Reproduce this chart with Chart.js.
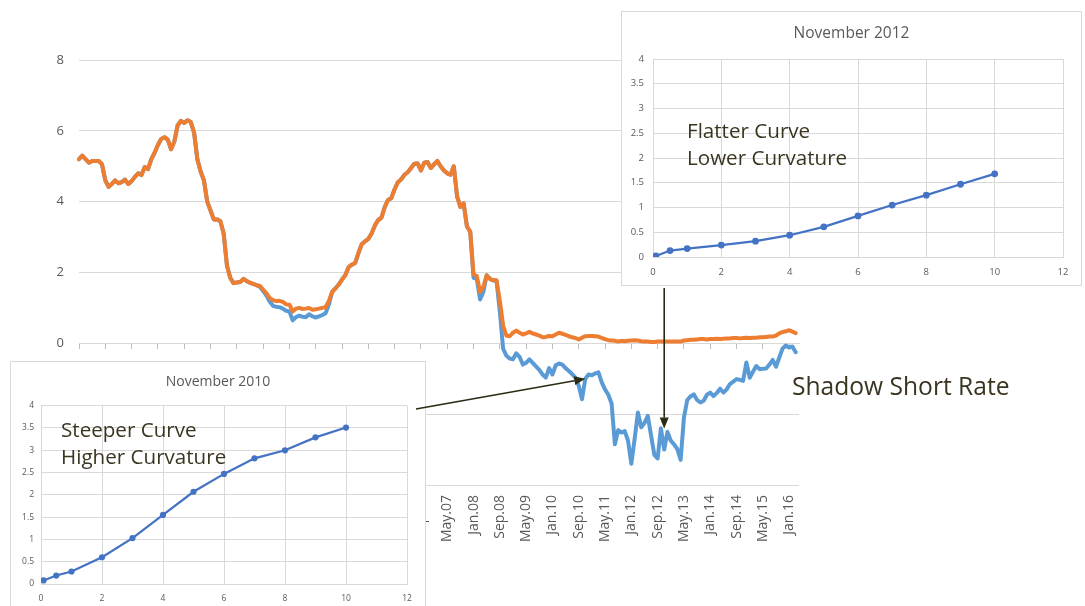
<!DOCTYPE html>
<html lang="en">
<head>
<meta charset="UTF-8">
<title>Shadow Short Rate</title>
<script src="https://cdn.jsdelivr.net/npm/chart.js@4.4.0/dist/chart.umd.min.js"></script>
<style>
  body { margin: 0; background: #fff; }
  #stage { position: relative; width: 1085px; height: 606px; overflow: hidden; background: #fff; font-family: 'Open Sans', sans-serif; }
  #main, #arrows { position: absolute; left: 0; top: 0; }
  #arrows { pointer-events: none; }
  .inset { position: absolute; background: #fff; border: 1px solid #d9d9d9; box-sizing: border-box; }
  .inset canvas { display: block; }
  .note { position: absolute; color: #3b3520; white-space: nowrap; font-size: 20.6px; line-height: 27px; }
</style>
</head>
<body>
<div id="stage">
  <canvas id="main" width="1085" height="606"></canvas>
  <div class="inset" style="left:621px; top:11px; width:461px; height:275px;"><canvas id="nov12" width="459" height="273"></canvas></div>
  <div class="inset" style="left:10px; top:361px; width:416px; height:260px;"><canvas id="nov10" width="414" height="258"></canvas></div>
  <div class="note" style="left:687px; top:116.5px;">Flatter Curve<br>Lower Curvature</div>
  <div class="note" style="left:61px; top:416px;">Steeper Curve<br>Higher Curvature</div>
  <div class="note" style="left:792px; top:370.5px; font-size:24.6px; line-height:30px;">Shadow Short Rate</div>
  <canvas id="arrows" width="1085" height="606"></canvas>
</div>

<script>
// monthly, Jan 1998 - Mar 2016
var shortRate = [
  5.2, 5.3, 5.2, 5.1, 5.15, 5.15, 5.15, 5.05, 4.6, 4.42, 4.5, 4.6,
  4.52, 4.55, 4.62, 4.5, 4.58, 4.7, 4.8, 4.75, 4.98, 4.92, 5.2, 5.38,
  5.6, 5.77, 5.82, 5.75, 5.48, 5.7, 6.15, 6.28, 6.22, 6.3, 6.25, 5.95,
  5.2, 4.85, 4.6, 4.0, 3.75, 3.5, 3.5, 3.45, 3.1, 2.2, 1.85, 1.7,
  1.72, 1.73, 1.82, 1.76, 1.71, 1.68, 1.64, 1.62, 1.52, 1.42, 1.28, 1.22,
  1.19, 1.2, 1.17, 1.1, 1.09, 0.9, 0.98, 1.0, 0.97, 0.98, 1.0, 0.95,
  0.96, 0.98, 1.0, 1.02, 1.2, 1.45, 1.55, 1.66, 1.8, 1.92, 2.15, 2.22,
  2.27, 2.55, 2.8, 2.88, 2.95, 3.1, 3.33, 3.48, 3.55, 3.85, 4.05, 4.1,
  4.35, 4.55, 4.63, 4.76, 4.83, 4.95, 5.07, 5.08, 4.88, 5.1, 5.12, 4.95,
  5.05, 5.15, 5.0, 4.88, 4.8, 4.76, 5.0, 4.15, 3.85, 3.95, 3.3, 3.15,
  1.95, 1.9, 1.45, 1.6, 1.92, 1.82, 1.78, 1.78, 1.2, 0.5, 0.22, 0.2,
  0.3, 0.36, 0.3, 0.25, 0.28, 0.33, 0.28, 0.25, 0.22, 0.17, 0.18, 0.21,
  0.2, 0.25, 0.3, 0.27, 0.24, 0.2, 0.17, 0.15, 0.11, 0.16, 0.2, 0.21,
  0.21, 0.2, 0.19, 0.15, 0.12, 0.09, 0.08, 0.07, 0.05, 0.07, 0.06, 0.07,
  0.08, 0.09, 0.08, 0.06, 0.05, 0.05, 0.04, 0.04, 0.05, 0.05, 0.05, 0.05,
  0.05, 0.05, 0.05, 0.05, 0.08, 0.09, 0.1, 0.1, 0.11, 0.12, 0.12, 0.11,
  0.12, 0.12, 0.13, 0.12, 0.13, 0.14, 0.14, 0.15, 0.15, 0.14, 0.15, 0.16,
  0.15, 0.16, 0.16, 0.17, 0.17, 0.18, 0.19, 0.19, 0.22, 0.28, 0.32, 0.34,
  0.37, 0.33, 0.29
];

var shadowRate = [
  5.2, 5.3, 5.2, 5.1, 5.15, 5.15, 5.15, 5.05, 4.6, 4.42, 4.5, 4.6,
  4.52, 4.55, 4.62, 4.5, 4.58, 4.7, 4.8, 4.75, 4.98, 4.92, 5.2, 5.38,
  5.6, 5.77, 5.82, 5.75, 5.48, 5.7, 6.15, 6.28, 6.22, 6.3, 6.25, 5.95,
  5.2, 4.85, 4.6, 4.0, 3.75, 3.5, 3.5, 3.45, 3.1, 2.2, 1.85, 1.7,
  1.72, 1.73, 1.82, 1.76, 1.71, 1.68, 1.64, 1.6, 1.48, 1.35, 1.18, 1.06,
  1.03, 1.02, 0.98, 0.92, 0.9, 0.65, 0.74, 0.78, 0.75, 0.74, 0.82, 0.76,
  0.73, 0.76, 0.8, 0.85, 1.1, 1.45, 1.55, 1.66, 1.8, 1.92, 2.15, 2.22,
  2.27, 2.55, 2.8, 2.88, 2.95, 3.1, 3.33, 3.48, 3.55, 3.85, 4.05, 4.1,
  4.35, 4.55, 4.63, 4.76, 4.83, 4.95, 5.07, 5.08, 4.88, 5.1, 5.12, 4.95,
  5.05, 5.15, 5.0, 4.88, 4.8, 4.76, 5.0, 4.15, 3.85, 3.95, 3.3, 3.15,
  1.85, 1.82, 1.24, 1.45, 1.92, 1.82, 1.78, 1.76, 0.9, -0.15, -0.35, -0.43,
  -0.45, -0.28, -0.38, -0.6, -0.55, -0.45, -0.55, -0.65, -0.75, -0.88, -0.97, -0.7,
  -0.88, -0.62, -0.57, -0.6, -0.7, -0.78, -0.87, -0.97, -1.2, -1.58, -1.0, -0.88,
  -0.9, -0.85, -0.82, -1.1, -1.3, -1.45, -1.7, -2.85, -2.45, -2.52, -2.48, -2.75,
  -3.4, -2.7, -1.95, -2.37, -2.25, -2.05, -2.6, -3.15, -3.25, -2.4, -3.0, -2.5,
  -2.75, -2.85, -2.99, -3.29, -2.1, -1.6, -1.5, -1.44, -1.6, -1.67, -1.62, -1.45,
  -1.39, -1.49, -1.4, -1.28, -1.39, -1.3, -1.15, -1.08, -1.01, -1.03, -1.06, -0.54,
  -0.97, -0.8, -0.64, -0.73, -0.72, -0.71, -0.6, -0.47, -0.66, -0.4, -0.15, -0.06,
  -0.12, -0.09, -0.25
];

// yield curves (maturity in years)
var maturities = [0.083, 0.5, 1, 2, 3, 4, 5, 6, 7, 8, 9, 10];
var curveNov2010 = [0.08, 0.19, 0.28, 0.6, 1.03, 1.55, 2.07, 2.47, 2.82, 3.0, 3.29, 3.51];
var curveNov2012 = [0.02, 0.13, 0.17, 0.24, 0.32, 0.44, 0.61, 0.83, 1.05, 1.25, 1.47, 1.68];

// category axis: Jan.98 .. Apr.16, a label every 8 months
var monthNames = ['Jan','Feb','Mar','Apr','May','Jun','Jul','Aug','Sep','Oct','Nov','Dec'];
var months = [];
for (var i = 0; i < 220; i++) {
  var yr = 1998 + Math.floor(i / 12);
  months.push(monthNames[i % 12] + '.' + String(yr).slice(2));
}

Chart.defaults.font.family = "'Open Sans', sans-serif";
Chart.defaults.color = '#595959';

var mainChart = new Chart(document.getElementById('main'), {
  type: 'line',
  data: {
    labels: months,
    datasets: [
      { label: 'Shadow Short Rate', data: shadowRate, borderColor: '#5B9BD5', order: 2 },
      { label: 'Short Rate', data: shortRate, borderColor: '#ED7D31', order: 1 }
    ]
  },
  options: {
    responsive: false,
    animation: false,
    devicePixelRatio: 1,
    layout: { padding: { left: 0, top: 60, right: 286, bottom: 0 } },
    elements: {
      line: { borderWidth: 4, tension: 0, borderJoinStyle: 'round', borderCapStyle: 'round' },
      point: { radius: 0 }
    },
    plugins: { legend: { display: false }, tooltip: { enabled: false } },
    scales: {
      y: {
        min: -4, max: 8,
        ticks: { stepSize: 2, padding: 15, font: { size: 13 } },
        grid: { color: '#d9d9d9', drawTicks: false },
        border: { display: false },
        afterFit: function (s) { s.width = 79; }
      },
      x: {
        ticks: {
          autoSkip: false, minRotation: 90, maxRotation: 90, padding: 10, font: { size: 14 },
          callback: function (v, i) { return i % 8 === 0 ? months[i] : ''; }
        },
        grid: { display: false, drawTicks: false },
        border: { display: false },
        afterFit: function (s) { s.height = 121; }
      },
      x0: {
        type: 'category',
        position: { y: 0 },
        ticks: { display: false },
        grid: {
          drawOnChartArea: false, tickLength: 5,
          color: function (c) { return c.index % 8 === 0 ? '#bfbfbf' : 'rgba(0,0,0,0)'; }
        },
        border: { color: '#d9d9d9' }
      }
    }
  }
});

function curveChart(id, title, values, o) {
  return new Chart(document.getElementById(id), {
    type: 'line',
    data: {
      datasets: [{
        data: maturities.map(function (m, k) { return { x: m, y: values[k] }; }),
        borderColor: '#4472C4', backgroundColor: '#4472C4',
        borderWidth: 2.25, pointRadius: o.r, pointBorderWidth: 0, tension: 0
      }]
    },
    options: {
      responsive: false,
      animation: false,
      devicePixelRatio: 1,
      layout: { padding: 0 },
      plugins: {
        legend: { display: false }, tooltip: { enabled: false },
        title: {
          display: true, text: title, color: '#595959',
          font: { size: o.titleSize, weight: 'normal' },
          padding: { top: o.tTop, bottom: o.tBottom }
        }
      },
      scales: {
        x: {
          type: 'linear', min: 0, max: 12,
          ticks: { stepSize: 2, padding: o.xPad, font: { size: o.tick } },
          grid: { color: '#d9d9d9', drawTicks: false },
          border: { color: '#d9d9d9' },
          afterFit: function (s) { s.height = o.xH; }
        },
        y: {
          min: 0, max: 4,
          ticks: {
            stepSize: 0.5, padding: o.yPad, font: { size: o.tick },
            callback: function (v) { return String(v); }
          },
          grid: { color: '#d9d9d9', drawTicks: false },
          border: { color: '#d9d9d9' },
          afterFit: function (s) { s.width = o.yW; }
        },
        // empty right-hand margin so the title stays centred on the panel
        yr: {
          position: 'right',
          grid: { display: false }, ticks: { display: false }, border: { display: false },
          afterFit: function (s) { s.width = 18; }
        }
      }
    }
  });
}

curveChart('nov12', 'November 2012', curveNov2012,
  { r: 3.4, titleSize: 15.5, tTop: 12.5, tBottom: 15.9, tick: 9.5, xPad: 10, yPad: 9, xH: 28, yW: 31 });
curveChart('nov10', 'November 2010', curveNov2010,
  { r: 3.1, titleSize: 14, tTop: 11.6, tBottom: 15.3, tick: 8.5, xPad: 9, yPad: 7, xH: 36, yW: 30 });

// arrows from the curve panels to the matching months on the main chart
var actx = document.getElementById('arrows').getContext('2d');
function arrow(x1, y1, x2, y2) {
  var ang = Math.atan2(y2 - y1, x2 - x1), len = 11, half = 4.5;
  var bx = x2 - len * Math.cos(ang), by = y2 - len * Math.sin(ang);
  actx.strokeStyle = '#2b2b14';
  actx.fillStyle = '#2b2b14';
  actx.lineWidth = 1.6;
  actx.beginPath();
  actx.moveTo(x1, y1);
  actx.lineTo(bx, by);
  actx.stroke();
  actx.beginPath();
  actx.moveTo(x2, y2);
  actx.lineTo(bx + half * Math.sin(ang), by - half * Math.cos(ang));
  actx.lineTo(bx - half * Math.sin(ang), by + half * Math.cos(ang));
  actx.closePath();
  actx.fill();
}
var xs = mainChart.scales.x, ys = mainChart.scales.y;
var i10 = months.indexOf('Nov.10'), i12 = months.indexOf('Nov.12');
arrow(416, 409, xs.getPixelForValue(i10), ys.getPixelForValue(shadowRate[i10]));
var x12 = xs.getPixelForValue(i12);
arrow(x12, 288, x12, ys.getPixelForValue(shadowRate[i12]) - 21);
</script>
</body>
</html>
